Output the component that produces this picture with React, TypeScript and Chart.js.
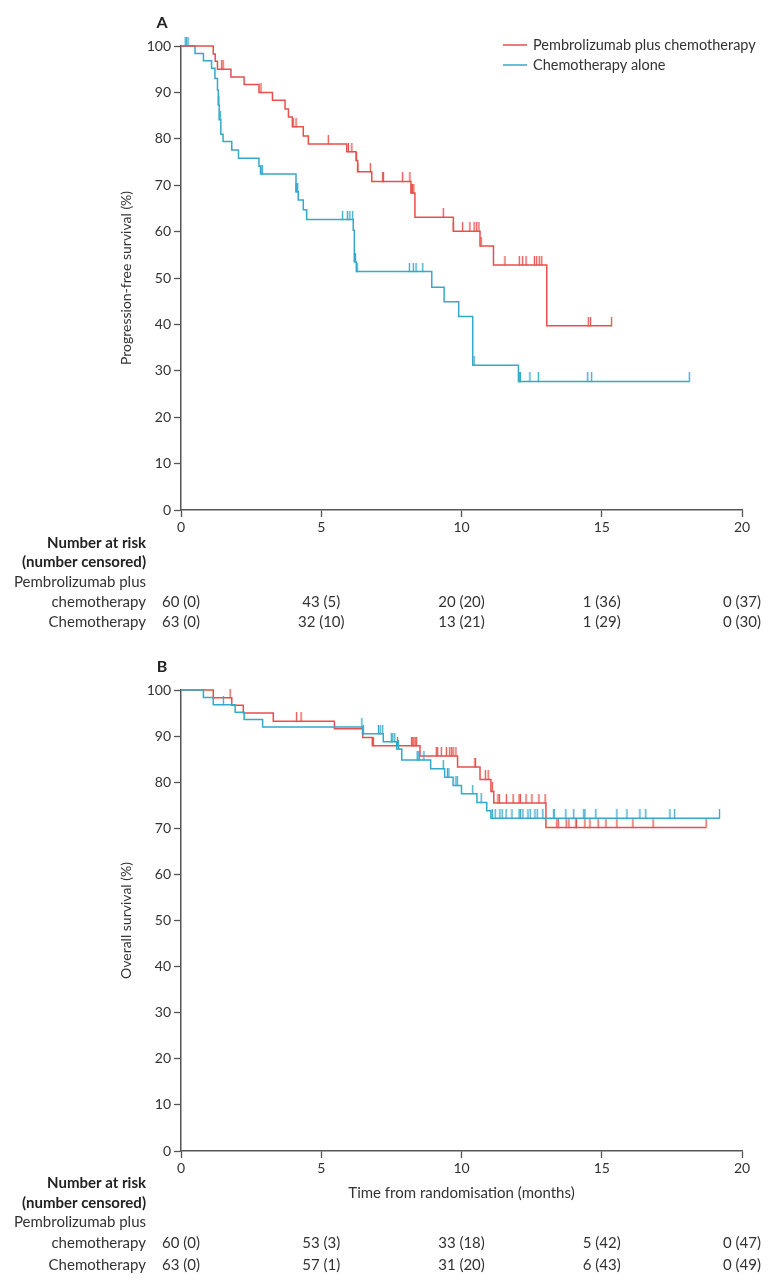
import React, { useEffect, useRef } from "react";
import { Chart, registerables } from "chart.js";

Chart.register(...registerables);

// ---------- Data ----------
const xTickValues = [0, 5, 10, 15, 20];

// Panel A: progression-free survival
const pfsPembroTimes = [0, 1.15, 1.22, 1.3, 1.78, 2.25, 2.78, 3.26, 3.71, 3.83, 3.97, 4.36, 4.54, 5.91, 6.24, 6.3, 6.8, 8.2, 8.34, 9.71, 10.66, 11.14, 13.04, 15.35];
const pfsPembroValues = [100, 98.3, 96.7, 95.0, 93.3, 91.7, 90.0, 88.3, 86.4, 84.7, 82.6, 80.6, 78.9, 77.2, 75.3, 72.9, 70.8, 68.3, 63.1, 60.1, 56.9, 52.8, 39.7, 39.7];
const pfsPembroCensored = [1.45, 1.5, 2.85, 4.0, 4.1, 5.25, 5.97, 6.09, 6.26, 6.3, 6.75, 7.19, 7.22, 7.9, 8.16, 8.2, 8.25, 8.3, 9.35, 9.71, 10.04, 10.3, 10.45, 10.54, 10.62, 10.7, 11.55, 12.06, 12.18, 12.3, 12.6, 12.68, 12.77, 12.86, 14.52, 14.6, 15.35];

const pfsChemoTimes = [0, 0.5, 0.8, 1.09, 1.21, 1.3, 1.33, 1.36, 1.42, 1.5, 1.81, 2.05, 2.78, 2.84, 4.1, 4.18, 4.36, 4.48, 6.14, 6.18, 6.25, 8.94, 9.38, 9.9, 10.4, 12.03, 18.12];
const pfsChemoValues = [100, 98.4, 96.8, 95.2, 93.0, 90.5, 87.3, 84.1, 81.0, 79.4, 77.6, 75.8, 74.1, 72.4, 68.6, 66.8, 64.7, 62.6, 60.3, 53.5, 51.4, 48.0, 44.9, 41.7, 31.2, 27.7, 27.7];
const pfsChemoCensored = [0.15, 0.2, 0.25, 1.35, 1.4, 2.85, 2.9, 4.1, 4.13, 4.16, 5.76, 5.93, 6.02, 6.12, 6.2, 6.22, 6.28, 8.14, 8.28, 8.38, 8.62, 10.45, 12.05, 12.08, 12.1, 12.44, 12.74, 14.5, 14.64, 18.12];

// Panel B: overall survival
const osPembroTimes = [0, 1.15, 1.81, 2.22, 3.29, 5.47, 6.48, 6.82, 8.52, 9.86, 10.66, 11.05, 11.15, 13.01, 18.72];
const osPembroValues = [100, 98.3, 96.7, 95.0, 93.2, 91.6, 89.7, 87.9, 85.7, 83.3, 80.6, 78.0, 75.5, 70.2, 70.2];
const osPembroCensored = [1.75, 4.12, 4.28, 6.86, 7.72, 8.22, 8.26, 8.3, 8.35, 8.4, 9.1, 9.15, 9.28, 9.46, 9.58, 9.65, 9.7, 9.8, 10.48, 10.5, 10.85, 10.95, 11.1, 11.3, 11.35, 11.6, 11.84, 12.05, 12.1, 12.3, 12.51, 12.76, 12.98, 13.4, 13.45, 13.73, 13.83, 14.08, 14.1, 14.4, 14.58, 14.87, 15.15, 15.54, 16.11, 16.83, 18.72];

const osChemoTimes = [0, 0.8, 1.15, 1.93, 2.25, 2.91, 6.47, 7.21, 7.69, 7.87, 8.9, 9.4, 9.7, 10.0, 10.55, 10.9, 11.05, 19.2];
const osChemoValues = [100, 98.4, 96.8, 95.2, 93.6, 92.0, 90.5, 88.8, 87.2, 84.8, 82.9, 81.1, 79.3, 77.5, 75.6, 73.8, 72.2, 72.2];
const osChemoCensored = [1.51, 6.45, 6.5, 7.04, 7.1, 7.19, 7.5, 7.55, 7.62, 7.75, 8.42, 8.45, 8.5, 8.66, 9.35, 9.5, 9.55, 9.8, 9.85, 10.4, 10.7, 11.1, 11.2, 11.37, 11.45, 11.59, 11.8, 12.05, 12.1, 12.19, 12.37, 12.45, 12.62, 12.7, 12.9, 13.29, 13.3, 13.72, 14.0, 14.36, 14.4, 14.79, 15.54, 15.9, 16.36, 16.57, 17.43, 17.6, 19.2];

// Number at risk (number censored)
const pfsRiskPembro = ["60 (0)", "43 (5)", "20 (20)", "1 (36)", "0 (37)"];
const pfsRiskChemo = ["63 (0)", "32 (10)", "13 (21)", "1 (29)", "0 (30)"];
const osRiskPembro = ["60 (0)", "53 (3)", "33 (18)", "5 (42)", "0 (47)"];
const osRiskChemo = ["63 (0)", "57 (1)", "31 (20)", "6 (43)", "0 (49)"];

const seriesLabels = ["Pembrolizumab plus chemotherapy", "Chemotherapy alone"];

// ---------- Styles ----------
const RED = "#e6504c";
const BLUE = "#34a9c9";
const AXIS = "#555555";
const TEXT = "#333333";
const FONT = "Lato, 'Open Sans', sans-serif";

function levelAt(times: number[], values: number[], t: number) {
  let v = values[0];
  for (let i = 0; i < times.length; i++) {
    if (times[i] <= t + 1e-9) v = values[i];
  }
  return v;
}

function tickImage(color: string) {
  const c = document.createElement("canvas");
  c.width = 3;
  c.height = 18;
  const g = c.getContext("2d")!;
  g.strokeStyle = color;
  g.lineWidth = 1.3;
  g.beginPath();
  g.moveTo(1.5, 0);
  g.lineTo(1.5, 9.5);
  g.stroke();
  return c;
}

function kmDatasets(
  times: number[],
  values: number[],
  censored: number[],
  color: string,
  label: string
) {
  return [
    {
      type: "line" as const,
      label,
      data: times.map((t, i) => ({ x: t, y: values[i] })),
      borderColor: color,
      borderWidth: 1.5,
      stepped: "before" as const,
      pointRadius: 0,
      fill: false,
      clip: false as any,
    },
    {
      type: "line" as const,
      label: label + " censored",
      data: censored.map((t) => ({ x: t, y: levelAt(times, values, t) })),
      showLine: false,
      pointStyle: tickImage(color) as any,
      pointRadius: 5,
      clip: false as any,
    },
  ];
}

const kmTextPlugin = {
  id: "kmText",
  afterDraw(chart: any, _args: any, opts: any) {
    const ctx = chart.ctx as CanvasRenderingContext2D;
    const area = chart.chartArea;
    const xs = chart.scales.x;
    ctx.save();
    ctx.textBaseline = "middle";
    ctx.fillStyle = "#222";
    // Panel letter
    ctx.font = `bold 16px ${FONT}`;
    ctx.textAlign = "center";
    ctx.fillText(opts.letter, 162, area.top - 23);

    // Legend
    if (opts.legend) {
      const rows = [
        { color: RED, text: seriesLabels[0] },
        { color: BLUE, text: seriesLabels[1] },
      ];
      ctx.font = `14.5px ${FONT}`;
      ctx.textAlign = "left";
      rows.forEach((r, i) => {
        const y = area.top - 1 + i * 20;
        ctx.strokeStyle = r.color;
        ctx.lineWidth = 1.5;
        ctx.beginPath();
        ctx.moveTo(503, y);
        ctx.lineTo(527, y);
        ctx.stroke();
        ctx.fillStyle = TEXT;
        ctx.fillText(r.text, 533, y);
      });
    }

    const base = area.bottom;
    // X axis title
    if (opts.xTitle) {
      ctx.font = `15px ${FONT}`;
      ctx.fillStyle = TEXT;
      ctx.textAlign = "center";
      ctx.fillText(opts.xTitle, (xs.getPixelForValue(0) + xs.getPixelForValue(20)) / 2, base + 42);
    }

    // Risk table
    const labelRight = 146;
    const o = opts.offsets;
    ctx.textAlign = "right";
    ctx.fillStyle = "#222";
    ctx.font = `bold 15px ${FONT}`;
    ctx.fillText("Number at risk", labelRight, base + o[0]);
    ctx.fillText("(number censored)", labelRight, base + o[1]);
    ctx.font = `15px ${FONT}`;
    ctx.fillStyle = TEXT;
    ctx.fillText("Pembrolizumab plus", labelRight, base + o[2]);
    ctx.fillText("chemotherapy", labelRight, base + o[3]);
    ctx.fillText("Chemotherapy", labelRight, base + o[4]);
    ctx.textAlign = "center";
    xTickValues.forEach((v, i) => {
      const px = xs.getPixelForValue(v);
      ctx.fillText(opts.riskA[i], px, base + o[3]);
      ctx.fillText(opts.riskB[i], px, base + o[4]);
    });
    ctx.restore();
  },
};

function makeOptions(yTitle: string, topPad: number, bottomPad: number, text: any) {
  const tickFont = { family: FONT, size: 14 };
  return {
    responsive: false,
    animation: false as const,
    events: [],
    layout: { padding: { left: 0, right: 26, top: topPad, bottom: bottomPad } },
    plugins: {
      legend: { display: false },
      tooltip: { enabled: false },
      kmText: text,
    },
    scales: {
      x: {
        type: "linear" as const,
        min: 0,
        max: 20,
        ticks: { stepSize: 5, font: tickFont, color: TEXT, padding: 2, maxRotation: 0 },
        grid: { drawOnChartArea: false, drawTicks: true, tickLength: 7, tickColor: AXIS, tickWidth: 1.3 },
        border: { display: true, color: AXIS, width: 1.5 },
        afterFit: (s: any) => {
          s.height = 30;
        },
      },
      y: {
        type: "linear" as const,
        min: 0,
        max: 100,
        ticks: { stepSize: 10, font: tickFont, color: TEXT, padding: 3 },
        grid: { drawOnChartArea: false, drawTicks: true, tickLength: 7, tickColor: AXIS, tickWidth: 1.3 },
        border: { display: true, color: AXIS, width: 1.5 },
        title: {
          display: true,
          text: yTitle,
          font: { family: FONT, size: 14 },
          color: TEXT,
          padding: { top: 118, bottom: 0 },
        },
        afterFit: (s: any) => {
          s.width = 181;
        },
      },
    },
  };
}

function KMPanel(props: {
  height: number;
  datasets: any[];
  options: any;
}) {
  const ref = useRef<HTMLCanvasElement | null>(null);
  useEffect(() => {
    if (!ref.current) return;
    const chart = new Chart(ref.current, {
      type: "line",
      data: { datasets: props.datasets },
      options: props.options,
      plugins: [kmTextPlugin],
    } as any);
    return () => chart.destroy();
  }, []);
  return (
    <canvas
      ref={ref}
      width={768}
      height={props.height}
      style={{ display: "block", width: 768, height: props.height }}
    />
  );
}

export default function App() {
  const dsA = [
    ...kmDatasets(pfsPembroTimes, pfsPembroValues, pfsPembroCensored, RED, seriesLabels[0]),
    ...kmDatasets(pfsChemoTimes, pfsChemoValues, pfsChemoCensored, BLUE, seriesLabels[1]),
  ];
  const dsB = [
    ...kmDatasets(osChemoTimes, osChemoValues, osChemoCensored, BLUE, seriesLabels[1]),
    ...kmDatasets(osPembroTimes, osPembroValues, osPembroCensored, RED, seriesLabels[0]),
  ];
  const optA = makeOptions("Progression-free survival (%)", 46, 100, {
    letter: "A",
    legend: true,
    riskA: pfsRiskPembro,
    riskB: pfsRiskChemo,
    offsets: [33, 52, 72, 92, 112],
  });
  const optB = makeOptions("Overall survival (%)", 50, 105, {
    letter: "B",
    legend: false,
    xTitle: "Time from randomisation (months)",
    riskA: osRiskPembro,
    riskB: osRiskChemo,
    offsets: [32, 52, 71, 92, 114],
  });
  return (
    <div
      style={{
        position: "absolute",
        left: 0,
        top: 0,
        width: 768,
        height: 1286,
        background: "#ffffff",
      }}
    >
      <KMPanel height={640} datasets={dsA} options={optA} />
      <KMPanel height={646} datasets={dsB} options={optB} />
    </div>
  );
}
